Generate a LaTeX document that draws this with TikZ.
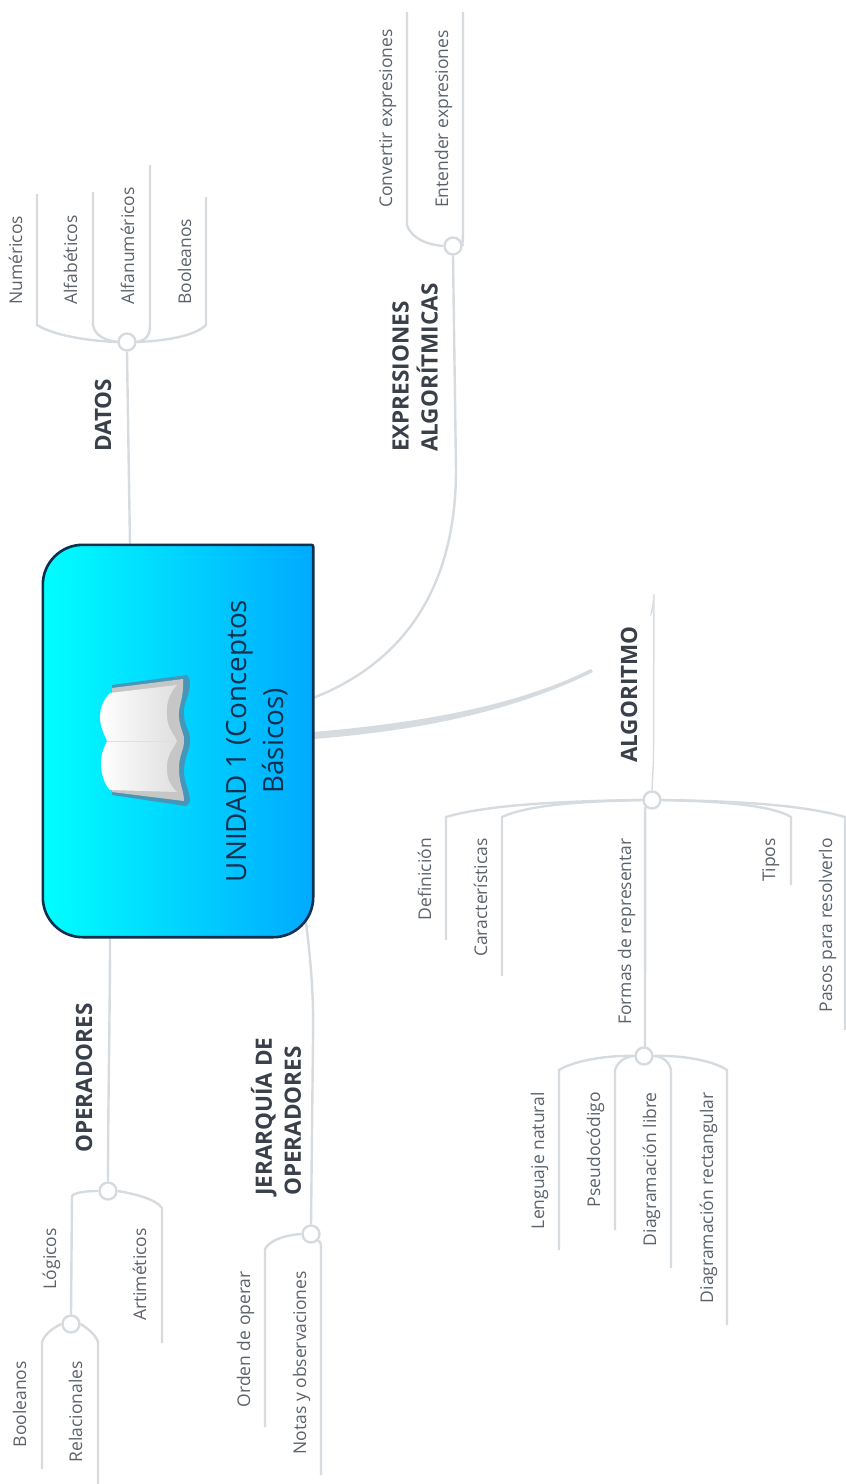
\documentclass[tikz,border=0pt]{standalone}
\usepackage{fontspec}
\setmainfont{Open Sans}
\definecolor{linea}{RGB}{214,219,224}
\definecolor{texto}{RGB}{92,98,106}
\definecolor{titulo}{RGB}{58,64,74}
\definecolor{borde}{RGB}{12,48,78}
\tikzset{
 hubo/.style={circle,draw=linea,fill=white,line width=2.4pt,minimum size=17pt,inner sep=0pt},
 rama/.style={linea,line width=2.4pt},
 hoja/.style={rotate=90,text=texto,font=\fontsize{17.5}{19}\selectfont,inner sep=0pt,text height=12pt,text depth=0pt},
 tema/.style={rotate=90,text=titulo,font=\fontsize{22.5}{29}\selectfont\bfseries,inner sep=0pt,align=left,anchor=west}
}
\begin{document}
\begin{tikzpicture}[x=1pt,y=-1pt]
\useasboundingbox (0,0) rectangle (846,1484);

\node (caja) [minimum width=270pt,minimum height=392pt,inner sep=0pt] at (178,741) {};

% hubos
\node (datoshub) [hubo] at (127,342) {};
\node (exphub) [hubo] at (453,246) {};
\node (alghub) [hubo] at (652,800) {};
\node (formashub) [hubo] at (644,1056) {};
\node (opehub) [hubo] at (108,1191) {};
\node (logicoshub) [hubo] at (71,1324) {};
\node (jerhub) [hubo] at (311,1234) {};

% datos
\coordinate (datosini) at (130,545);
\draw [rama] (datosini) .. controls (129,480) and (128,420) .. (datoshub.south);
\draw [rama] (datoshub.west) .. controls (90,341) and (55,336) .. (37,325) -- (37,194);
\draw [rama] (datoshub.west) .. controls (105,340) and (95,336) .. (93,325) -- (93,192);
\draw [rama] (datoshub.east) .. controls (146,340) and (150,336) .. (150,325) -- (150,165);
\draw [rama] (datoshub.east) .. controls (165,341) and (195,336) .. (206,325) -- (206,197);
\node (numericos) [hoja,anchor=west] at (16,305) {Numéricos};
\node (alfabeticos) [hoja,anchor=west] at (71,305) {Alfabéticos};
\node (alfanum) [hoja,anchor=west] at (128,305) {Alfanuméricos};
\node (boolda) [hoja,anchor=west] at (185,305) {Booleanos};
\node (datos) [tema] at (103,452) {DATOS};

% expresiones
\coordinate (expini) at (313,698);
\draw [rama] (expini) .. controls (410,660) and (456,580) .. (456,470) -- (exphub.south);
\draw [rama] (exphub.west) .. controls (430,245) and (412,240) .. (407,225) -- (407,12);
\draw [rama] (exphub.east) .. controls (462,244) and (463,240) .. (463,232) -- (463,12);
\node (convertir) [hoja,anchor=west] at (386,208) {Convertir expresiones};
\node (entender) [hoja,anchor=west] at (442,208) {Entender expresiones};
\node (expresiones) [tema] at (415,452) {EXPRESIONES\\ALGORÍTMICAS};

% algoritmo
\coordinate (algini) at (313,732);
\coordinate (algfin) at (591,669);
\fill [linea] (algini) .. controls (430,722) and (520,704) .. (algfin) -- (593,672) .. controls (520,708) and (430,730) .. (313,739) -- cycle;
\coordinate (algtop) at (654,594);
\coordinate (algtip) at (650,617);
\draw [linea,line width=1.4pt] (alghub.north) -- (653.5,760) -- (algtop);
\fill [linea] (algtop) -- (algtip) -- (653,611) -- cycle;
\draw [rama] (alghub.west) .. controls (570,801) and (490,804) .. (446,817) -- (446,940);
\draw [rama] (alghub.west) .. controls (590,801) and (530,804) .. (502,817) -- (502,976);
\draw [rama] (alghub.south west) -- (645,1048);
\draw [rama] (alghub.east) .. controls (710,801) and (770,804) .. (791,817) -- (791,885);
\draw [rama] (alghub.east) .. controls (730,801) and (800,804) .. (845,817) -- (845,1030);
\node (definicion) [hoja,anchor=east] at (425,838) {Definición};
\node (caract) [hoja,anchor=east] at (481,838) {Características};
\node (formas) [hoja,anchor=east] at (625,838) {Formas de representar};
\node (tipos) [hoja,anchor=east] at (769,838) {Tipos};
\node (pasos) [hoja,anchor=east] at (826,838) {Pasos para resolverlo};
\node (algoritmo) [tema] at (629,763) {ALGORITMO};

% formas de representar
\draw [rama] (formashub.west) .. controls (610,1055) and (575,1060) .. (559,1070) -- (559,1250);
\draw [rama] (formashub.west) .. controls (628,1056) and (618,1060) .. (615,1070) -- (615,1230);
\draw [rama] (formashub.east) .. controls (660,1056) and (669,1060) .. (671,1070) -- (671,1268);
\draw [rama] (formashub.east) .. controls (680,1055) and (712,1060) .. (727,1070) -- (727,1325);
\node (lenguaje) [hoja,anchor=east] at (538,1092) {Lenguaje natural};
\node (pseudo) [hoja,anchor=east] at (594,1092) {Pseudocódigo};
\node (libre) [hoja,anchor=east] at (650,1092) {Diagramación libre};
\node (rectangular) [hoja,anchor=east] at (707,1092) {Diagramación rectangular};

% operadores
\coordinate (opeini) at (110,937);
\draw [rama] (opeini) .. controls (110,1020) and (108,1100) .. (opehub.north);
\draw [rama] (opehub.west) .. controls (88,1191) and (75,1192) .. (72,1196) -- (logicoshub.north);
\draw [rama] (opehub.east) .. controls (130,1193) and (155,1198) .. (162,1208) -- (162,1343);
\node (logicos) [hoja,anchor=east] at (50,1228) {Lógicos};
\node (artimeticos) [hoja,anchor=east] at (140,1228) {Artiméticos};
\node (operadores) [tema] at (84,1153) {OPERADORES};

% logicos
\draw [rama] (logicoshub.west) .. controls (55,1327) and (45,1333) .. (42,1342) -- (42,1469);
\draw [rama] (logicoshub.east) .. controls (85,1327) and (95,1333) .. (98,1342) -- (98,1484);
\node (boollog) [hoja,anchor=east] at (20,1361) {Booleanos};
\node (relacionales) [hoja,anchor=east] at (76,1361) {Relacionales};

% jerarquia
\coordinate (jerini) at (305,915);
\draw [rama] (jerini) .. controls (311,960) and (314,1000) .. (313,1040) -- (jerhub.north);
\draw [rama] (jerhub.west) .. controls (285,1235) and (270,1240) .. (265,1249) -- (265,1427);
\draw [rama] (jerhub.south east) .. controls (321,1241) and (321,1245) .. (321,1249) -- (321,1475);
\node (orden) [hoja,anchor=east] at (244,1271) {Orden de operar};
\node (notas) [hoja,anchor=east] at (300,1271) {Notas y observaciones};
\node (jerarquia) [tema] at (276,1196) {JERARQUÍA DE\\OPERADORES};

% caja central
\shade [draw=borde,line width=2.6pt,left color=cyan,right color={rgb,255:red,0;green,170;blue,255}]
 (caja.north) [rounded corners=2pt] -- (caja.north east) [rounded corners=40pt] -- (caja.south east) -- (caja.south west) -- (caja.north west) -- cycle;

% libro
\fill [blue!30!cyan!45!gray] (112,685) -- (187,675) -- (190,680) .. controls (190,700) and (183,700) .. (184,715) .. controls (185,728) and (191,732) .. (190,741) .. controls (190,750) and (185,755) .. (184,770) .. controls (184,785) and (190,790) .. (190,802) -- (186,806) -- (112,795) -- cycle;
\fill [gray!45] (112,688) -- (183,679) .. controls (184,700) and (178,705) .. (179,717) .. controls (180,730) and (185,735) .. (184,741) .. controls (184,750) and (179,755) .. (179,768) .. controls (179,785) and (184,790) .. (184,801) -- (112,792) -- cycle;
\shade [left color=white,right color=gray!25] (110,693) -- (177,685) .. controls (168,695) and (166,705) .. (167,717) .. controls (168,730) and (175,735) .. (177,741) .. controls (175,747) and (168,752) .. (167,765) .. controls (166,778) and (170,785) .. (177,792) -- (110,790) .. controls (105,785) and (101,775) .. (101,763) .. controls (101,752) and (105,746) .. (107,741) .. controls (105,735) and (100,728) .. (100,717) .. controls (100,706) and (105,698) .. (110,693) -- cycle;
\draw [gray!25,line width=1pt] (107,741) -- (177,741);

\node (unidad) [rotate=90,text=borde,font=\fontsize{27.8}{37}\selectfont,align=center,inner sep=0pt] at (257,741) {UNIDAD 1 (Conceptos\\Básicos)};
\end{tikzpicture}
\end{document}
